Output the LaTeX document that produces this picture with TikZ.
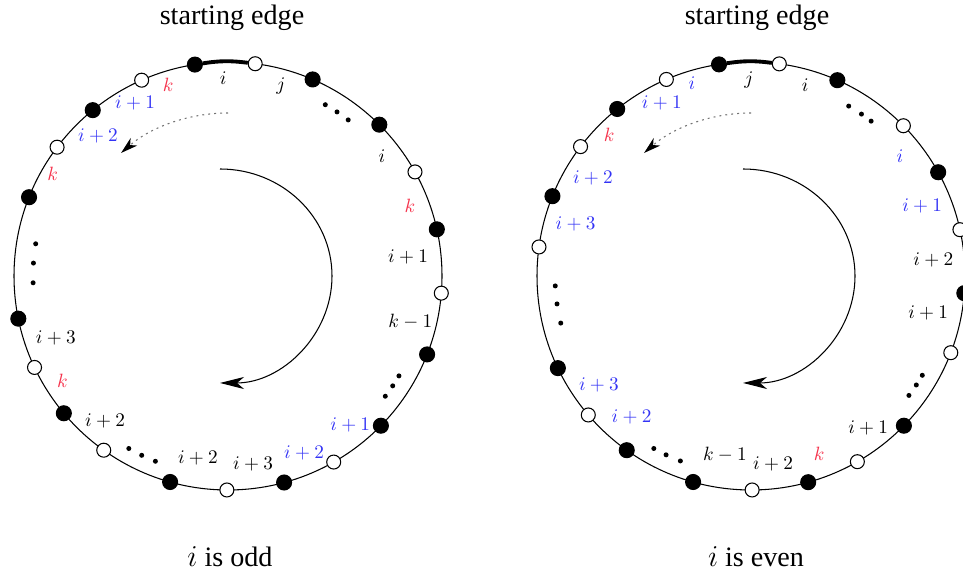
\documentclass[tikz,border=0pt]{standalone}
\usepackage{fontspec}
\setmainfont{Liberation Serif}
\usepackage{xcolor}
\usetikzlibrary{arrows.meta}
\definecolor{LabelBlue}{HTML}{3333F5}
\definecolor{LabelRed}{HTML}{F5304A}

\begin{document}
\begin{tikzpicture}[x=0.02cm, y=0.02cm,
	ring/.style={line width=0.6pt},
	fullv/.style={circle, draw, fill=black, line width=0.6pt, inner sep=0pt, minimum size=0.3cm},
	emptyv/.style={circle, draw, fill=white, line width=0.6pt, inner sep=0pt, minimum size=0.28cm},
	dotv/.style={circle, fill=black, inner sep=0pt, minimum size=0.1cm},
	lbl/.style={inner sep=1pt, font=\fontsize{11}{13}\selectfont},
	blbl/.style={lbl, text=LabelBlue},
	rlbl/.style={lbl, text=LabelRed},
	startedge/.style={line width=2.2pt},
	turn/.style={-{Stealth[length=0.48cm, width=0.24cm, inset=0.14cm]}, line width=0.6pt},
	hint/.style={-{Stealth[length=0.34cm, width=0.2cm, inset=0.1cm, color=black]}, draw=black!55, dash pattern=on 1.1pt off 2.3pt, line width=0.6pt},
	title/.style={font=\fontsize{16}{18}\selectfont}
	]
	\useasboundingbox (0,0) rectangle (963,577);

	\begin{scope}[shift={(228,301)}]
		\coordinate (Lc) at (0,0);
		\draw[ring] (Lc) circle[radius=214];
		\node[title] (Ltitle) at (4,258) {starting edge};
		\node[title] (Lname) at (2,-281) {$i$ is odd};

		\node[fullv] (L1) at (98.9:214) {};
		\node[emptyv] (L2) at (82.7:214) {};
		\node[fullv] (L3) at (66.7:214) {};
		\node[fullv] (L4) at (45:214) {};
		\node[emptyv] (L5) at (29.1:214) {};
		\node[fullv] (L6) at (12.6:214) {};
		\node[emptyv] (L7) at (-4.6:214) {};
		\node[fullv] (L8) at (-21.5:214) {};
		\node[fullv] (L9) at (-44.4:214) {};
		\node[emptyv] (L10) at (-60.4:214) {};
		\node[fullv] (L11) at (-74.8:214) {};
		\node[emptyv] (L12) at (-90.3:214) {};
		\node[fullv] (L13) at (-105.7:214) {};
		\node[emptyv] (L14) at (-125.5:214) {};
		\node[fullv] (L15) at (-140.1:214) {};
		\node[emptyv] (L16) at (-154.7:214) {};
		\node[fullv] (L17) at (-168.5:214) {};
		\node[fullv] (L18) at (158.4:214) {};
		\node[emptyv] (L19) at (143:214) {};
		\node[fullv] (L20) at (129.2:214) {};
		\node[emptyv] (L21) at (113.8:214) {};
		\draw[startedge] (L1) to[bend left=8] (L2);

		\node[dotv] (Ld1) at (60.4:197) {};
		\node[dotv] (Ld2) at (56.4:197) {};
		\node[dotv] (Ld3) at (52.4:197) {};
		\node[dotv] (Ld4) at (-30.3:198) {};
		\node[dotv] (Ld5) at (-33.7:198) {};
		\node[dotv] (Ld6) at (-37.4:198) {};
		\node[dotv] (Ld7) at (-111.4:199) {};
		\node[dotv] (Ld8) at (-115.7:199) {};
		\node[dotv] (Ld9) at (-119.9:199) {};
		\node[dotv] (Ld10) at (170.5:195) {};
		\node[dotv] (Ld11) at (176.2:195) {};
		\node[dotv] (Ld12) at (182:195) {};

		\node[lbl] (La1) at (91.4:198) {$i$};
		\node[lbl] (La2) at (74.4:197) {$j$};
		\node[rlbl] (La3) at (107.4:200) {$k$};
		\node[blbl] (La4) at (118.3:196) {$i+1$};
		\node[blbl] (La5) at (132.9:191) {$i+2$};
		\node[rlbl] (La6) at (149.8:203) {$k$};
		\node[lbl] (La7) at (37.9:195) {$i$};
		\node[rlbl] (La8) at (21:195) {$k$};
		\node[lbl] (La9) at (6:181) {$i+1$};
		\node[lbl] (La10) at (-14.2:188) {$k-1$};
		\node[blbl] (La11) at (-50.7:193) {$i+1$};
		\node[blbl] (La12) at (-66.8:193) {$i+2$};
		\node[lbl] (La13) at (-82.4:190) {$i+3$};
		\node[lbl] (La14) at (-99.4:184) {$i+2$};
		\node[lbl] (La15) at (-130.3:190) {$i+2$};
		\node[rlbl] (La16) at (-147.7:196) {$k$};
		\node[lbl] (La17) at (-160.2:183) {$i+3$};

		\coordinate (Lhint) at (90:163);
		\draw[hint] (Lhint) arc[start angle=90, end angle=131, radius=163];
		\coordinate (Lturn) at (-8,107);
		\draw[turn] (Lturn) arc[start angle=90, end angle=-90, x radius=112, y radius=107];
	\end{scope}

	\begin{scope}[shift={(751,301)}]
		\coordinate (Rc) at (0,0);
		\draw[ring] (Rc) circle[radius=214];
		\node[title] (Rtitle) at (6,258) {starting edge};
		\node[title] (Rname) at (5,-281) {$i$ is even};

		\node[fullv] (R1) at (98.6:214) {};
		\node[emptyv] (R2) at (82.4:214) {};
		\node[fullv] (R3) at (66.2:214) {};
		\node[emptyv] (R4) at (44.6:214) {};
		\node[fullv] (R5) at (29:214) {};
		\node[emptyv] (R6) at (12.5:214) {};
		\node[fullv] (R7) at (-4.6:214) {};
		\node[emptyv] (R8) at (-21:214) {};
		\node[fullv] (R9) at (-44.4:214) {};
		\node[emptyv] (R10) at (-60.2:214) {};
		\node[fullv] (R11) at (-74.5:214) {};
		\node[emptyv] (R12) at (-89.7:214) {};
		\node[fullv] (R13) at (-105.7:214) {};
		\node[fullv] (R14) at (-125.5:214) {};
		\node[emptyv] (R15) at (-139.5:214) {};
		\node[fullv] (R16) at (-154.5:214) {};
		\node[emptyv] (R17) at (172.2:214) {};
		\node[fullv] (R18) at (158.1:214) {};
		\node[emptyv] (R19) at (142.8:214) {};
		\node[fullv] (R20) at (128.7:214) {};
		\node[emptyv] (R21) at (113.3:214) {};
		\draw[startedge] (R1) to[bend left=8] (R2);

		\node[dotv] (Rd1) at (60.1:196) {};
		\node[dotv] (Rd2) at (55.7:196) {};
		\node[dotv] (Rd3) at (52.2:196) {};
		\node[dotv] (Rd4) at (-30.1:198) {};
		\node[dotv] (Rd5) at (-33.4:198) {};
		\node[dotv] (Rd6) at (-37.1:198) {};
		\node[dotv] (Rd7) at (-110.9:198) {};
		\node[dotv] (Rd8) at (-115.4:198) {};
		\node[dotv] (Rd9) at (-119.4:198) {};
		\node[dotv] (Rd10) at (182.9:196) {};
		\node[dotv] (Rd11) at (188.2:196) {};
		\node[dotv] (Rd12) at (193.9:196) {};

		\node[lbl] (Ra1) at (90.6:196) {$j$};
		\node[lbl] (Ra2) at (74.1:198) {$i$};
		\node[blbl] (Ra3) at (107:202) {$i$};
		\node[blbl] (Ra4) at (117.2:195) {$i+1$};
		\node[rlbl] (Ra5) at (135.2:200) {$k$};
		\node[blbl] (Ra6) at (148.2:186) {$i+2$};
		\node[blbl] (Ra7) at (163.5:183) {$i+3$};
		\node[blbl] (Ra8) at (38.8:191) {$i$};
		\node[blbl] (Ra9) at (22.3:185) {$i+1$};
		\node[lbl] (Ra10) at (5:183) {$i+2$};
		\node[lbl] (Ra11) at (-11.8:181) {$i+1$};
		\node[lbl] (Ra12) at (-52.4:192) {$i+1$};
		\node[rlbl] (Ra13) at (-69:190) {$k$};
		\node[lbl] (Ra14) at (-83.3:189) {$i+2$};
		\node[lbl] (Ra15) at (-98.3:181) {$k-1$};
		\node[blbl] (Ra16) at (-130.2:185) {$i+2$};
		\node[blbl] (Ra17) at (-144.4:187) {$i+3$};

		\coordinate (Rhint) at (90:163);
		\draw[hint] (Rhint) arc[start angle=90, end angle=131, radius=163];
		\coordinate (Rturn) at (-8,107);
		\draw[turn] (Rturn) arc[start angle=90, end angle=-90, x radius=112, y radius=107];
	\end{scope}
\end{tikzpicture}
\end{document}
